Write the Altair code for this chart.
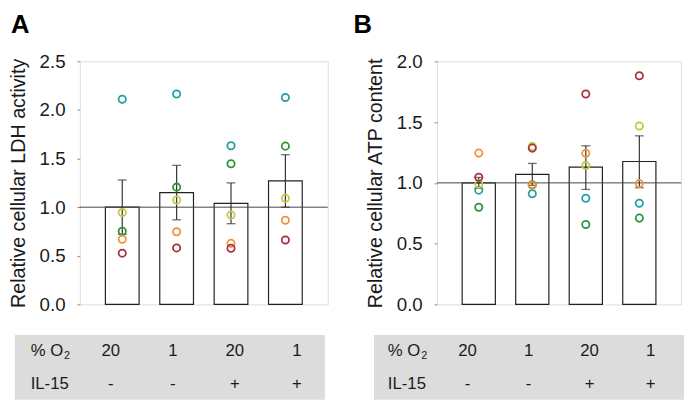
import altair as alt
import pandas as pd

FONT = "Liberation Sans"

# ---- categories ----
conditions = ["c1", "c2", "c3", "c4"]
o2_labels = ["20", "1", "20", "1"]
il15_labels = ["-", "-", "+", "+"]
donors = ["teal", "green", "yellow", "orange", "red"]
donor_colors = ["#22a0a0", "#2f9438", "#c8c83c", "#f39038", "#a8323c"]

# ---- panel A: LDH activity ----
ldh_mean = [1.00, 1.15, 1.04, 1.27]
ldh_low = [0.72, 0.87, 0.83, 1.00]
ldh_high = [1.28, 1.43, 1.25, 1.54]
ldh_teal = [2.11, 2.165, 1.632, 2.128]
ldh_green = [0.753, 1.206, 1.446, 1.628]
ldh_yellow = [0.946, 1.074, 0.919, 1.091]
ldh_orange = [0.67, 0.747, 0.628, 0.865]
ldh_red = [0.527, 0.581, 0.578, 0.662]

# ---- panel B: ATP content ----
atp_mean = [1.00, 1.07, 1.13, 1.176]
atp_low = [0.955, 0.98, 0.946, 0.96]
atp_high = [1.045, 1.16, 1.305, 1.387]
atp_teal = [0.94, 0.91, 0.873, 0.832]
atp_green = [0.80, 0.985, 0.657, 0.71]
atp_yellow = [0.99, 1.30, 1.143, 1.468]
atp_orange = [1.245, 0.98, 1.243, 0.994]
atp_red = [1.046, 1.286, 1.732, 1.881]

ref_value = [1.0]


def bar_frame(mean, low, high):
    return pd.DataFrame({"cond": conditions, "mean": mean, "low": low, "high": high})


def point_frame(series):
    rows = []
    for donor, vals in zip(donors, series):
        for c, v in zip(conditions, vals):
            rows.append({"cond": c, "donor": donor, "val": v})
    return pd.DataFrame(rows)


def x_enc():
    return alt.X("cond:N", scale=alt.Scale(domain=conditions, paddingInner=0.38,
                                           paddingOuter=0.47), axis=None)


def panel(mean, low, high, series, ymax, ytitle, letter, width, letter_dx):
    bdf = bar_frame(mean, low, high)
    pdf = point_frame(series)
    ticks = [round(i * 0.5, 1) for i in range(int(ymax / 0.5) + 1)]
    yscale = alt.Scale(domain=[0, ymax], nice=False, zero=True)
    yaxis = alt.Axis(values=ticks, format=".1f", title=ytitle, grid=False, domain=False,
                     tickSize=3, tickColor="#888888", labelPadding=12,
                     labelFont=FONT, labelFontSize=19, labelColor="#1a1a1a",
                     titleFont=FONT, titleFontSize=20, titleFontWeight="normal",
                     titleColor="#1a1a1a", titlePadding=11)
    x = x_enc()
    bars = alt.Chart(bdf).mark_bar(fill="white", stroke="#222222", strokeWidth=1.2).encode(
        x=x, y=alt.Y("mean:Q", scale=yscale, axis=yaxis))
    ref = alt.Chart(pd.DataFrame({"ref": ref_value})).mark_rule(
        color="#444444", strokeWidth=1).encode(y=alt.Y("ref:Q", scale=yscale, axis=yaxis))
    err = alt.Chart(bdf).mark_rule(color="#333333", strokeWidth=1.2).encode(
        x=x, y=alt.Y("low:Q", scale=yscale, axis=yaxis), y2="high:Q")
    cap_hi = alt.Chart(bdf).mark_tick(color="#333333", thickness=1.3, size=9, orient="horizontal").encode(
        x=x, y=alt.Y("high:Q", scale=yscale, axis=yaxis))
    cap_lo = alt.Chart(bdf).mark_tick(color="#333333", thickness=1.3, size=9, orient="horizontal").encode(
        x=x, y=alt.Y("low:Q", scale=yscale, axis=yaxis))
    pts = alt.Chart(pdf).mark_point(filled=False, size=55, strokeWidth=1.8, opacity=1).encode(
        x=x, y=alt.Y("val:Q", scale=yscale, axis=yaxis),
        color=alt.Color("donor:N", scale=alt.Scale(domain=donors, range=donor_colors), legend=None))
    return alt.layer(bars, ref, err, cap_hi, cap_lo, pts).properties(
        width=width, height=247,
        title=alt.TitleParams(letter, anchor="start", frame="group", dx=letter_dx, offset=-6,
                              baseline="alphabetic", fontSize=26, fontWeight="bold",
                              font=FONT, color="black"))


def table(width, left, right):
    rows = ["o2", "il"]
    yrow = alt.Y("row:N", scale=alt.Scale(domain=rows, paddingInner=0, paddingOuter=0.05), axis=None)
    x = x_enc()
    cells = []
    for c, a, b in zip(conditions, o2_labels, il15_labels):
        cells.append({"cond": c, "row": "o2", "text": a})
        cells.append({"cond": c, "row": "il", "text": b})
    cdf = pd.DataFrame(cells)
    bg = alt.Chart(pd.DataFrame({"k": [0]})).mark_rect(color="#dcdcdc").encode(
        x=alt.value(left), x2=alt.value(right), y=alt.value(0), y2=alt.value(66))
    vals = alt.Chart(cdf).mark_text(font=FONT, fontSize=17, color="#1a1a1a", baseline="middle").encode(
        x=x, y=yrow, text="text:N")
    lab = alt.Chart(pd.DataFrame({"row": rows, "text": ["% O", "IL-15"]})).mark_text(
        font=FONT, fontSize=17, color="#1a1a1a", baseline="middle", align="left").encode(
        x=alt.value(-50), y=yrow, text="text:N")
    sub = alt.Chart(pd.DataFrame({"row": ["o2"], "text": ["2"]})).mark_text(
        font=FONT, fontSize=11, color="#1a1a1a", baseline="middle", align="left", dy=5).encode(
        x=alt.value(-16), y=yrow, text="text:N")
    return alt.layer(bg, vals, lab, sub).properties(
        width=width, height=66, view=alt.ViewBackground(stroke="transparent"))


panelA = panel(ldh_mean, ldh_low, ldh_high,
               [ldh_teal, ldh_green, ldh_yellow, ldh_orange, ldh_red],
               2.5, "Relative cellular LDH activity", "A", 252, -70)
panelB = panel(atp_mean, atp_low, atp_high,
               [atp_teal, atp_green, atp_yellow, atp_orange, atp_red],
               2.0, "Relative cellular ATP content", "B", 248, -85)
tableA = table(252, -66, 249)
tableB = table(248, -64, 251)

chart = alt.concat(panelA, panelB, tableA, tableB, columns=2,
                   spacing={"row": 31, "column": 111}, bounds="flush").properties(
    padding={"left": 0, "top": 0, "right": 0, "bottom": 0}
).configure_view(stroke="#8a8a8a", strokeWidth=1).configure(background="white")

chart.save("out.html", embed_options={"renderer": "svg", "actions": False})
